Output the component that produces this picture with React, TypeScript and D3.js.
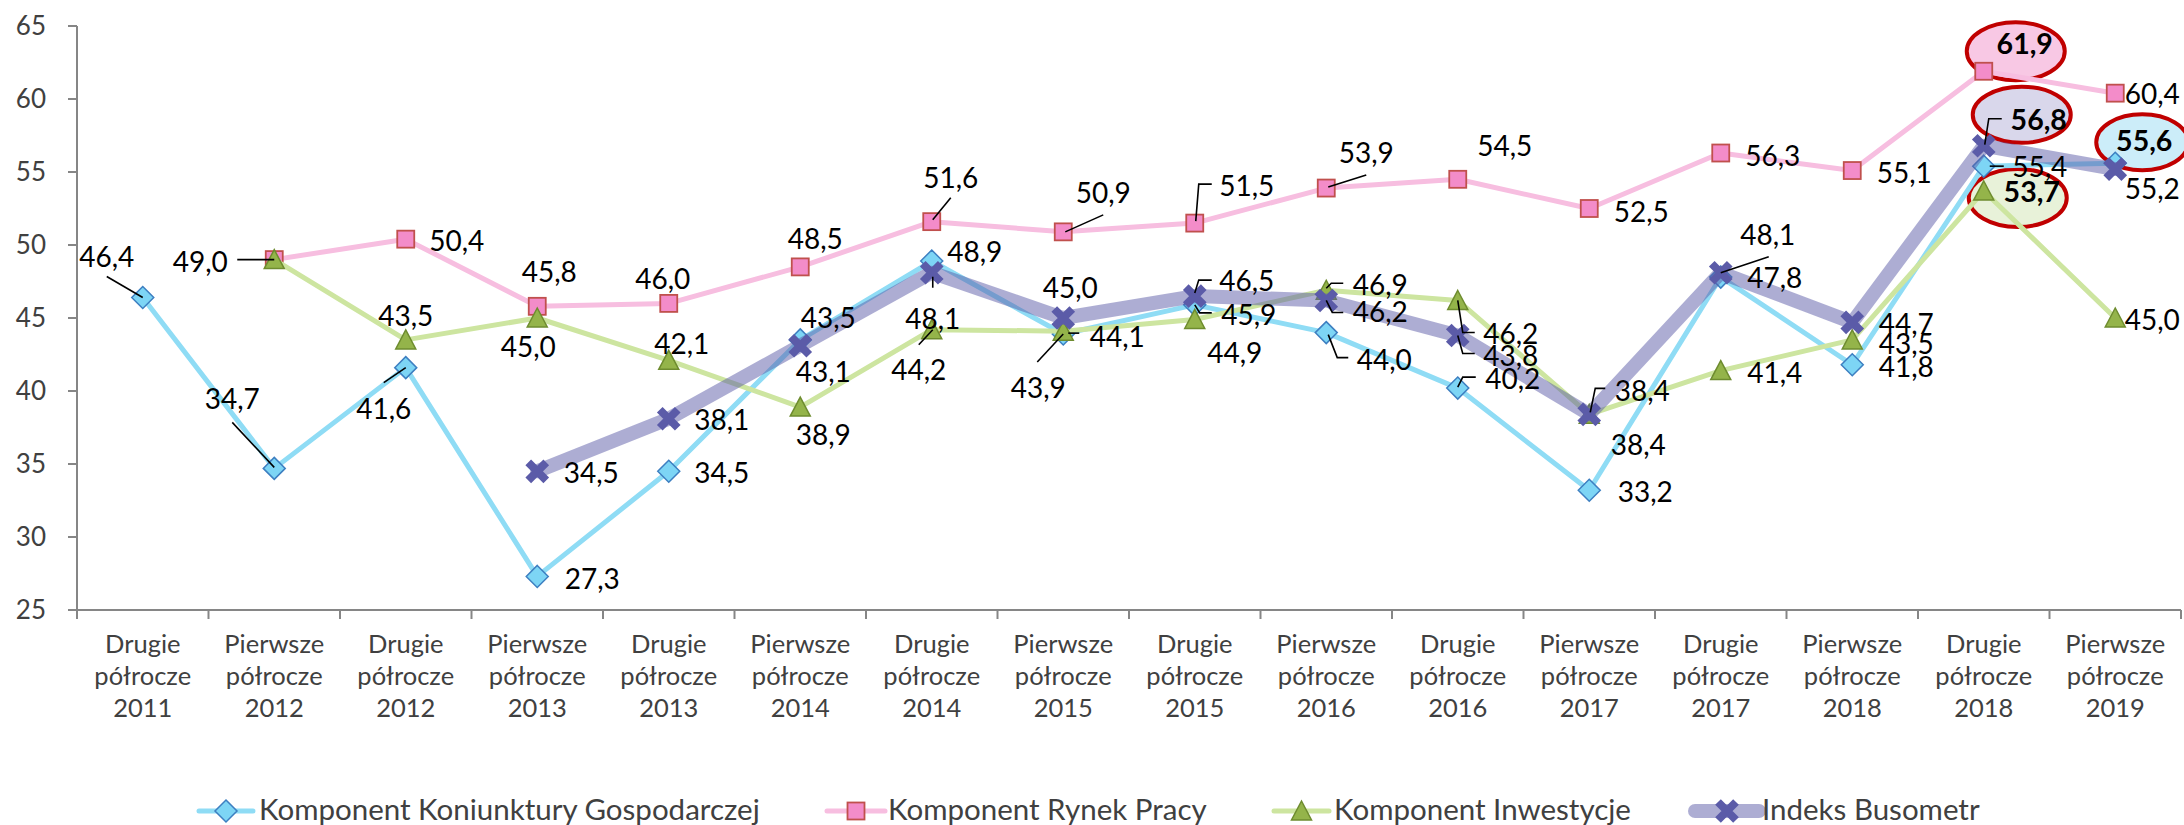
import React from 'react';
import * as d3 from 'd3';

const categories = [
  'Drugie półrocze 2011', 'Pierwsze półrocze 2012', 'Drugie półrocze 2012', 'Pierwsze półrocze 2013',
  'Drugie półrocze 2013', 'Pierwsze półrocze 2014', 'Drugie półrocze 2014', 'Pierwsze półrocze 2015',
  'Drugie półrocze 2015', 'Pierwsze półrocze 2016', 'Drugie półrocze 2016', 'Pierwsze półrocze 2017',
  'Drugie półrocze 2017', 'Pierwsze półrocze 2018', 'Drugie półrocze 2018', 'Pierwsze półrocze 2019',
];

const koniunktura: (number | null)[] = [46.4, 34.7, 41.6, 27.3, 34.5, 43.5, 48.9, 43.9, 45.9, 44.0, 40.2, 33.2, 47.8, 41.8, 55.4, 55.6];
const rynekPracy: (number | null)[] = [null, 49.0, 50.4, 45.8, 46.0, 48.5, 51.6, 50.9, 51.5, 53.9, 54.5, 52.5, 56.3, 55.1, 61.9, 60.4];
const inwestycje: (number | null)[] = [null, 49.0, 43.5, 45.0, 42.1, 38.9, 44.2, 44.1, 44.9, 46.9, 46.2, 38.4, 41.4, 43.5, 53.7, 45.0];
const busometr: (number | null)[] = [null, null, null, 34.5, 38.1, 43.1, 48.1, 45.0, 46.5, 46.2, 43.8, 38.4, 48.1, 44.7, 56.8, 55.2];

const yTicks = [25, 30, 35, 40, 45, 50, 55, 60, 65];

const seriesNames = ['Komponent Koniunktury Gospodarczej', 'Komponent Rynek Pracy', 'Komponent Inwestycje', 'Indeks Busometr'];

// highlighted (bold + ellipse) point index per series
const highlightIndex = [15, 14, 14, 14];

// ---- layout: label centre offsets from the point (px) ----
type P = [number, number];
const koniunkturaLabelPos: (P | null)[] = [
  [-36, -41], [-42, -69], [-22, 41], [55, 2], [53, 2], [28, -22], [43, -9], [-25, 54],
  [54, 10], [58, 27], [55, -9], [56, 2], [54, 1], [54, 2], [56, 1], [29, -23],
];
const rynekLabelPos: (P | null)[] = [
  null, [-74, 2], [51, 2], [12, -34], [-6, -24], [15, -28], [19, -44], [40, -39],
  [52, -37], [40, -35], [47, -33], [52, 3], [52, 3], [52, 2], [41, -28], [37, 1],
];
// the 49,0 label of this series sits exactly under the Rynek Pracy one in the reference
const inwestycjeLabelPos: (P | null)[] = [
  null, null, [0, -24], [-9, 29], [13, -16], [23, 28], [-13, 40], [54, 6],
  [40, 33], [54, -5], [53, 33], [49, 31], [54, 2], [54, 4], [48, 1], [37, 2],
];
const busometrLabelPos: (P | null)[] = [
  null, null, null, [54, 2], [53, 1], [23, 26], [1, 46], [7, -30],
  [52, -15], [54, 11], [53, 20], [53, -23], [47, -38], [54, 2], [55, -26], [37, 20],
];

// leader lines (polyline points relative to the data point)
const koniunkturaLeaders: (P[] | null)[] = [
  [[-36, -21], [0, 0]], [[-42, -46], [0, -1]], [[-22, 15], [0, 0]], null, null, null, null, [[-26, 28], [0, 0]],
  [[0, 0], [5, 8], [17, 8]], [[2, 2], [11, 25], [22, 25]], [[0, -1], [5, -11], [18, -11]], null, null, null, [[6, 0], [20, 0]], null,
];
const rynekLeaders: (P[] | null)[] = [
  null, [[-37, 0], [0, 0]], null, null, null, null, [[19, -24], [1, -2]], [[40, -17], [2, 0]],
  [[1, -2], [4, -39], [17, -39]], [[40, -13], [2, -1]], null, null, null, null, null, null,
];
const inwestycjeLeaders: (P[] | null)[] = [
  null, null, null, null, null, null, [[-13, 15], [1, 0]], [[5, 2], [16, 2]],
  null, [[0, -2], [5, -7], [17, -7]], [[0, 0], [5, 32], [17, 32]], null, null, null, null, null,
];
const busometrLeaders: (P[] | null)[] = [
  null, null, null, null, null, null, [[1, 4], [1, 15]], null,
  [[0, -3], [4, -16], [17, -16]], [[0, 0], [6, 12], [17, 12]], [[0, 0], [5, 18], [17, 18]], [[1, -2], [6, -26], [16, -26]],
  [[48, -16], [0, 0]], null, [[1, -1], [5, -27], [18, -27]], null,
];

// ellipse around the highlighted label: offset from label centre, radii, fill
const ellipseStyles = [
  { dx: -2, dy: 2, rx: 46, ry: 28, fill: '#ccedf9' },
  { dx: -9, dy: 8, rx: 49, ry: 29, fill: '#f8c8e4' },
  { dx: -14, dy: 6, rx: 49, ry: 29, fill: '#e8f2d9' },
  { dx: -17, dy: -5, rx: 49, ry: 28, fill: '#d9d7eb' },
];

const styles = [
  { line: '#8fdcf5', lineW: 5, lineOpacity: 1, marker: 'diamond', fill: '#7dd5f5', stroke: '#3d7fc1' },
  { line: '#f7bee0', lineW: 5, lineOpacity: 1, marker: 'square', fill: '#f38cc9', stroke: '#c0504d' },
  { line: '#cde5a0', lineW: 5, lineOpacity: 1, marker: 'triangle', fill: '#94b44a', stroke: '#6e8c2f' },
  { line: '#5b5ba8', lineW: 14, lineOpacity: 0.5, marker: 'x', fill: '#5b5ba8', stroke: '#5b5ba8' },
];

const legendPos = [
  { x0: 199, x1: 253, tx: 259 },
  { x0: 827, x1: 885, tx: 888 },
  { x0: 1274, x1: 1329, tx: 1334 },
  { x0: 1695, x1: 1759, tx: 1762 },
];

const FONT = 'Lato, "Open Sans", sans-serif';
const fmt = (v: number) => v.toFixed(1).replace('.', ',');

function Marker({ kind, x, y, fill, stroke }: any) {
  if (kind === 'diamond') {
    return <path d={`M${x},${y - 11}L${x + 11},${y}L${x},${y + 11}L${x - 11},${y}Z`} fill={fill} stroke={stroke} strokeWidth={1.5} />;
  }
  if (kind === 'square') {
    return <rect x={x - 8.5} y={y - 8.5} width={17} height={17} fill={fill} stroke={stroke} strokeWidth={1.8} />;
  }
  if (kind === 'triangle') {
    return <path d={`M${x},${y - 10}L${x + 10},${y + 9}L${x - 10},${y + 9}Z`} fill={fill} stroke={stroke} strokeWidth={1.5} />;
  }
  return <path d={`M${x - 9},${y - 9}L${x + 9},${y + 9}M${x - 9},${y + 9}L${x + 9},${y - 9}`} stroke={fill} strokeWidth={8} fill="none" />;
}

export default function App() {
  const W = 2184, H = 825;
  const x = d3.scaleBand<string>().domain(categories).range([77, 2181]);
  const y = d3.scaleLinear().domain([25, 65]).range([610, 26]);
  const bw = x.bandwidth();
  const cxOf = (i: number) => (x(categories[i]) as number) + bw / 2;

  const allValues = [koniunktura, rynekPracy, inwestycje, busometr];
  const allLabelPos = [koniunkturaLabelPos, rynekLabelPos, inwestycjeLabelPos, busometrLabelPos];
  const allLeaders = [koniunkturaLeaders, rynekLeaders, inwestycjeLeaders, busometrLeaders];

  const lineGen = d3.line<number | null>()
    .defined((d) => d != null)
    .x((_, i) => cxOf(i))
    .y((d) => y(d as number));

  const boundaries = d3.range(categories.length + 1).map((i) =>
    i < categories.length ? (x(categories[i]) as number) : (x(categories[categories.length - 1]) as number) + bw);

  return (
    <svg width={W} height={H} style={{ position: 'absolute', left: 0, top: 0, background: '#fff' }} fontFamily={FONT}>
      <style>{`body{margin:0;overflow:hidden}`}</style>
      <rect x={0} y={0} width={W} height={H} fill="#fff" />

      {/* highlight ellipses (behind series) */}
      {allValues.map((vals, s) => {
        const i = highlightIndex[s];
        const v = vals[i] as number;
        const lp = allLabelPos[s][i] as P;
        const e = ellipseStyles[s];
        return (
          <ellipse key={`el${s}`} cx={cxOf(i) + lp[0] + e.dx} cy={y(v) + lp[1] + e.dy} rx={e.rx} ry={e.ry}
            fill={e.fill} stroke="#c00000" strokeWidth={4} />
        );
      })}

      {/* axes */}
      <line x1={77} x2={77} y1={y(65)} y2={y(25)} stroke="#868686" strokeWidth={2} />
      <line x1={77} x2={2181} y1={y(25)} y2={y(25)} stroke="#868686" strokeWidth={2} />
      {yTicks.map((t) => (
        <g key={`yt${t}`}>
          <line x1={68} x2={77} y1={y(t)} y2={y(t)} stroke="#868686" strokeWidth={2} />
          <text x={46} y={y(t)} dy="0.36em" textAnchor="end" fontSize={26} fill="#404040">{t}</text>
        </g>
      ))}
      {boundaries.map((b, i) => (
        <line key={`xt${i}`} x1={b} x2={b} y1={610} y2={619} stroke="#868686" strokeWidth={2} />
      ))}
      {categories.map((c, i) => {
        const parts = c.split(' ');
        return (
          <text key={`cl${i}`} x={cxOf(i)} textAnchor="middle" fontSize={25.5} fill="#404040">
            {parts.map((p, k) => (
              <tspan key={k} x={cxOf(i)} y={653 + k * 32}>{p}</tspan>
            ))}
          </text>
        );
      })}

      {/* series */}
      {allValues.map((vals, s) => {
        const st = styles[s];
        return (
          <g key={`s${s}`}>
            <path d={lineGen(vals) || ''} fill="none" stroke={st.line} strokeWidth={st.lineW}
              strokeOpacity={st.lineOpacity} strokeLinejoin="round" strokeLinecap="round" />
            {vals.map((v, i) => v == null ? null : (
              <Marker key={i} kind={st.marker} x={cxOf(i)} y={y(v)} fill={st.fill} stroke={st.stroke} />
            ))}
          </g>
        );
      })}

      {/* leader lines */}
      {allLeaders.map((ls, s) => ls.map((pts, i) => {
        const v = allValues[s][i];
        if (!pts || v == null) return null;
        const px = cxOf(i), py = y(v);
        return (
          <polyline key={`ld${s}-${i}`} points={pts.map((p) => `${px + p[0]},${py + p[1]}`).join(' ')}
            fill="none" stroke="#000" strokeWidth={1.6} />
        );
      }))}

      {/* data labels */}
      {allValues.map((vals, s) => vals.map((v, i) => {
        const lp = allLabelPos[s][i];
        if (v == null || !lp) return null;
        const bold = highlightIndex[s] === i;
        return (
          <text key={`lb${s}-${i}`} x={cxOf(i) + lp[0]} y={y(v) + lp[1]} dy="0.36em" textAnchor="middle"
            fontSize={bold ? 28.5 : 28} fontWeight={bold ? 700 : 400} fill="#000">{fmt(v)}</text>
        );
      }))}

      {/* legend */}
      {seriesNames.map((n, s) => {
        const st = styles[s];
        const lp = legendPos[s];
        const ly = 811;
        const mx = (lp.x0 + lp.x1) / 2;
        return (
          <g key={`lg${s}`}>
            <line x1={lp.x0} x2={lp.x1} y1={ly} y2={ly} stroke={st.line} strokeWidth={st.lineW}
              strokeOpacity={st.lineOpacity} strokeLinecap="round" />
            <Marker kind={st.marker} x={mx} y={ly} fill={st.fill} stroke={st.stroke} />
            <text x={lp.tx} y={820} fontSize={29.5} fill="#404040">{n}</text>
          </g>
        );
      })}
    </svg>
  );
}
